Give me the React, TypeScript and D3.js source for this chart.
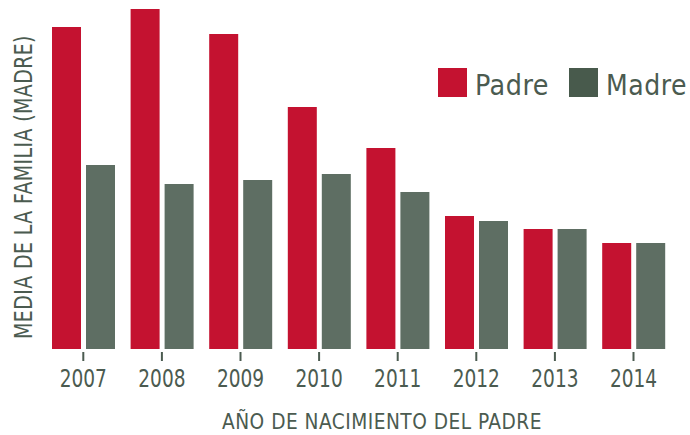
import React, { useEffect, useRef } from "react";
import * as d3 from "d3";

const years = ["2007", "2008", "2009", "2010", "2011", "2012", "2013", "2014"];
const series = ["Padre", "Madre"];
const padreValues = [32.2, 34.0, 31.5, 24.2, 20.1, 13.3, 12.0, 10.6];
const madreValues = [18.4, 16.5, 16.9, 17.5, 15.7, 12.8, 12.0, 10.6];

const barColors = ["#c41230", "#5e6e63"];
const legendColors = ["#c41230", "#485a4c"];
const textColor = "#4b5b50";
const font = "'DejaVu Sans Condensed', 'DejaVu Sans', sans-serif";

const App = () => {
  const svgRef = useRef<SVGSVGElement>(null);

  useEffect(() => {
    const w = 690;
    const h = 435;
    const baseY = 349;

    const svg = d3.select(svgRef.current).attr("width", w).attr("height", h);
    svg.selectAll("*").remove();

    // scales
    const x0 = d3.scaleBand().domain(years).range([44, 44 + 8 * 78.6]).padding(0);
    const x1 = d3.scaleBand().domain(series).range([8, 71]).paddingInner(5 / 34).paddingOuter(0);
    const y = d3.scaleLinear().domain([0, 34]).range([baseY, 9]);

    const rows = years.map((yr, i) => ({ year: yr, values: [padreValues[i], madreValues[i]] }));

    // bars
    const groups = svg.selectAll(".grp")
      .data(rows)
      .join("g")
      .attr("class", "grp")
      .attr("transform", d => `translate(${x0(d.year)},0)`);

    groups.selectAll("rect")
      .data(d => d.values.map((v, j) => ({ key: series[j], v, j })))
      .join("rect")
      .attr("x", d => x1(d.key)!)
      .attr("y", d => y(d.v))
      .attr("width", x1.bandwidth())
      .attr("height", d => baseY - y(d.v))
      .attr("fill", d => barColors[d.j]);

    // x axis
    const axis = svg.append("g")
      .attr("transform", `translate(0,${baseY + 3})`)
      .call(d3.axisBottom(x0).tickSize(9).tickSizeOuter(0));
    axis.select(".domain").remove();
    axis.selectAll(".tick line").attr("stroke", textColor).attr("stroke-width", 2);
    axis.selectAll(".tick text")
      .attr("y", 0)
      .attr("dy", 0)
      .attr("transform", "translate(0,35) scale(0.86,1)")
      .attr("fill", textColor)
      .style("font-family", font)
      .style("font-size", "24px");

    // text squeezed horizontally to a target width (narrow font stand-in)
    const squeezed = (txt: string, size: number, width: number, base: string, anchor: string) => {
      const t = svg.append("text")
        .attr("text-anchor", anchor)
        .attr("fill", textColor)
        .style("font-family", font)
        .style("font-size", `${size}px`)
        .style("letter-spacing", "0.5px")
        .text(txt);
      const len = (t.node() as SVGTextElement).getComputedTextLength() || width;
      t.attr("transform", `${base} scale(${width / len},1)`);
      return t;
    };

    squeezed("AÑO DE NACIMIENTO DEL PADRE", 21, 320, "translate(382,429)", "middle");
    squeezed("MEDIA DE LA FAMILIA (MADRE)", 25, 304, "translate(32,187) rotate(-90)", "middle");

    // legend
    const legendX = [438, 569];
    const legendW = [74, 81];
    series.forEach((s, i) => {
      svg.append("rect")
        .attr("x", legendX[i]).attr("y", 68)
        .attr("width", 29).attr("height", 29)
        .attr("fill", legendColors[i]);
      squeezed(s, 28, legendW[i], `translate(${legendX[i] + 37},95)`, "start");
    });
  }, []);

  return (
    <svg ref={svgRef} style={{ position: "absolute", left: 0, top: 0, background: "white" }}></svg>
  );
};

export default App;
